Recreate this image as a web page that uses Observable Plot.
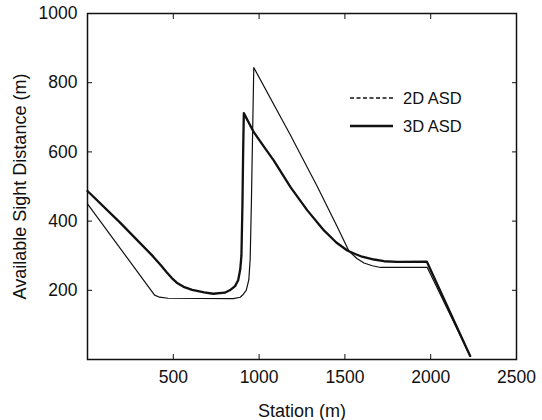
<!DOCTYPE html>
<html>
<head>
<meta charset="utf-8">
<script src="https://cdn.jsdelivr.net/npm/d3@7"></script>
<script src="https://cdn.jsdelivr.net/npm/@observablehq/plot@0.6"></script>
<style>
  html, body { margin: 0; padding: 0; background: #fff; }
  #wrap { position: relative; width: 542px; height: 420px; font-family: "Liberation Sans", Arial, sans-serif; }
  #legend { position: absolute; left: 350px; top: 84px; font-size: 16.5px; color: #111; }
  #legend .row { display: flex; align-items: center; height: 28px; }
  #legend svg { margin-right: 10px; }
</style>
</head>
<body>
<div id="wrap"></div>
<script>
// 2D ASD (thin line)
const station2D = [0, 391, 420, 470, 850, 890, 907, 925, 940, 948, 955, 962, 969, 1183, 1339, 1456, 1524, 1570, 1611, 1660, 1708, 1980, 2230];
const asd2D     = [450, 186, 180, 177, 176, 180, 188, 200, 230, 290, 450, 650, 844, 648, 500, 383, 313, 292, 279, 271, 266, 266, 10];
// 3D ASD (thick line)
const station3D = [0, 187, 382, 430, 460, 490, 520, 560, 610, 680, 732, 800, 829, 860, 878, 890, 897, 903, 907, 911, 969, 1030, 1086, 1183, 1281, 1378, 1450, 1514, 1560, 1600, 1670, 1728, 1806, 1977, 2230];
const asd3D     = [487, 397, 298, 271, 253, 236, 222, 210, 201, 194, 190, 193, 200, 212, 229, 260, 300, 450, 600, 712, 657, 614, 575, 498, 431, 373, 338, 315, 305, 297, 289, 284, 282, 283, 10];

const xTicks = [500, 1000, 1500, 2000, 2500];
const yTicks = [200, 400, 600, 800, 1000];
const legendLabels = ["2D ASD", "3D ASD"];

const rows2D = station2D.map((s, i) => ({station: s, asd: asd2D[i]}));
const rows3D = station3D.map((s, i) => ({station: s, asd: asd3D[i]}));

const ink = "#111";
const fmt = d3.format("d");
const chart = Plot.plot({
  width: 542,
  height: 420,
  marginLeft: 87,
  marginRight: 26,
  marginTop: 13,
  marginBottom: 61,
  style: {fontFamily: "'Liberation Sans', Arial, sans-serif", fontSize: "17px", color: ink, background: "#fff"},
  x: {domain: [0, 2500]},
  y: {domain: [0, 1000]},
  marks: [
    Plot.axisX(xTicks, {anchor: "bottom", tickSize: -5, tickPadding: 16, tickFormat: fmt, label: "Station (m)", labelAnchor: "center", labelOffset: 57, labelArrow: "none", fontSize: 17.5}),
    Plot.axisX(xTicks, {anchor: "top", tickSize: -5, tickFormat: () => "", label: null}),
    Plot.axisY(yTicks, {anchor: "left", tickSize: -5, tickPadding: 15, tickFormat: fmt, label: "Available Sight Distance (m)", labelAnchor: "center", labelOffset: 74, labelArrow: "none", fontSize: 17.5}),
    Plot.axisY(yTicks, {anchor: "right", tickSize: -5, tickFormat: () => "", label: null}),
    Plot.frame({stroke: ink, strokeWidth: 1.5}),
    Plot.line(rows2D, {x: "station", y: "asd", stroke: ink, strokeWidth: 1.2, strokeLinejoin: "round"}),
    Plot.line(rows3D, {x: "station", y: "asd", stroke: ink, strokeWidth: 2.3, strokeLinejoin: "round"})
  ]
});
const wrap = document.getElementById("wrap");
wrap.appendChild(chart);
chart.querySelectorAll("g[aria-label$='axis label'] text").forEach(t => t.style.fontSize = "18px");

const legend = document.createElement("div");
legend.id = "legend";
legendLabels.forEach((lab, i) => {
  const row = document.createElement("div");
  row.className = "row";
  row.innerHTML = `<svg width="43" height="6"><line x1="0" x2="43" y1="3" y2="3" stroke="${ink}" stroke-width="${i === 0 ? 1.5 : 2.3}" ${i === 0 ? 'stroke-dasharray="4,2.5"' : ''}/></svg><span>${lab}</span>`;
  legend.appendChild(row);
});
wrap.appendChild(legend);
</script>
</body>
</html>
